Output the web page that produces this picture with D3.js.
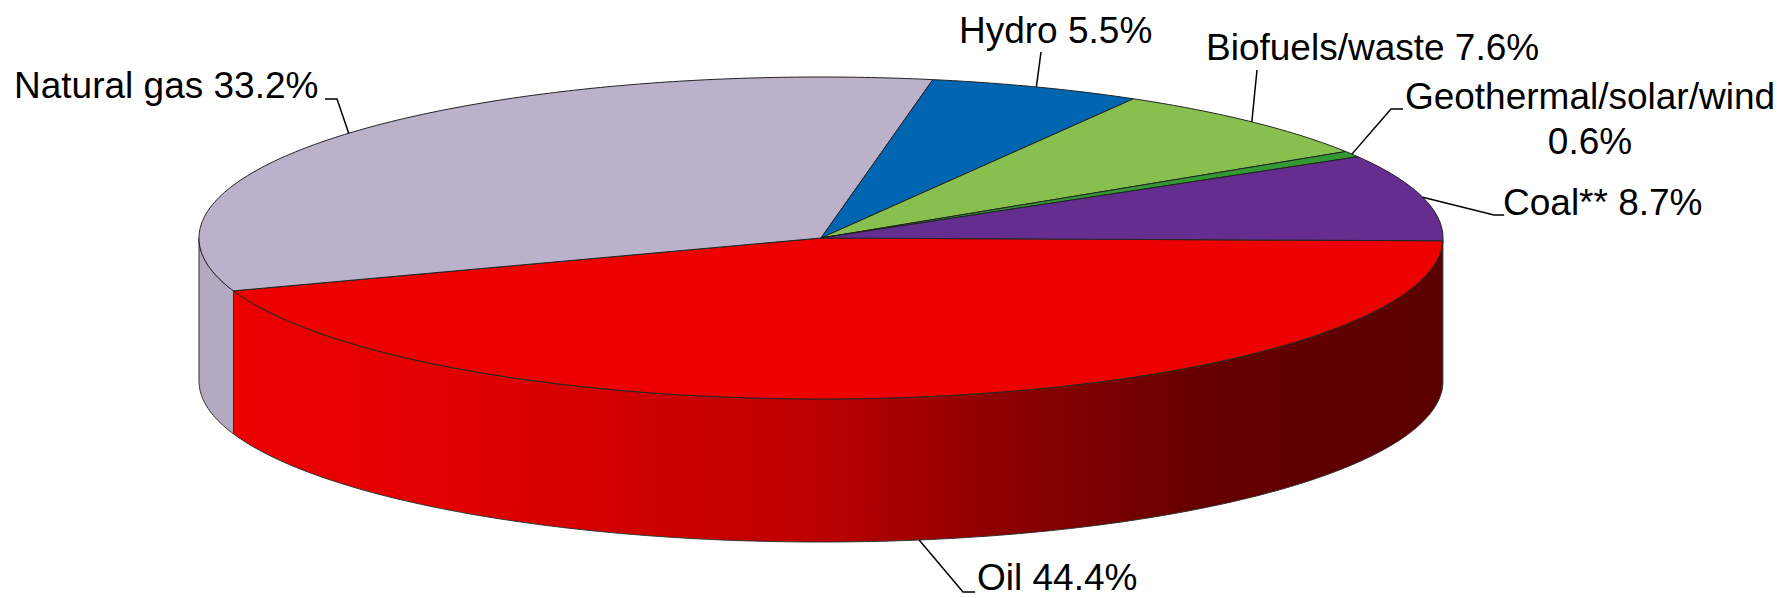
<!DOCTYPE html>
<html>
<head>
<meta charset="utf-8">
<script src="https://cdn.jsdelivr.net/npm/d3@7"></script>
<style>
  html, body { margin: 0; padding: 0; background: #fff; }
  svg { display: block; }
  text { font-family: "Liberation Sans", Arial, sans-serif; font-size: 37px; fill: #000; }
</style>
</head>
<body>
<div id="chart"></div>
<script>
var categories = ["Oil", "Natural gas", "Hydro", "Biofuels/waste", "Geothermal/solar/wind", "Coal**"];
var values = [44.4, 33.2, 5.5, 7.6, 0.6, 8.7];
var topColors = ["#EC0000", "#BBB1CA", "#0066B2", "#88C04F", "#339933", "#662D91"];

var width = 1782, height = 598;
var cx = 821, cy = 238, rx = 622, ry = 161, depth = 143;

// label text, then the elbow of each leader line and where the text sits
var labelLines = [
  ["Oil 44.4%"],
  ["Natural gas 33.2%"],
  ["Hydro 5.5%"],
  ["Biofuels/waste 7.6%"],
  ["Geothermal/solar/wind", "0.6%"],
  ["Coal** 8.7%"]
];
var leaders = [
  [[975, 592], [963, 592]],
  [[325, 99], [337, 99]],
  [[1041, 52]],
  [[1257, 70]],
  [[1403, 109], [1391, 109]],
  [[1504, 215], [1494, 215]]
];
var labelPos = [
  {x: 977, y: 590, anchor: "start"},
  {x: 14, y: 98, anchor: "start"},
  {x: 959, y: 43, anchor: "start"},
  {x: 1206, y: 60, anchor: "start"},
  {x: 1590, y: 109, anchor: "middle"},
  {x: 1503, y: 215, anchor: "start"}
];

var svg = d3.select("#chart").append("svg")
  .attr("width", width)
  .attr("height", height)
  .attr("viewBox", `0 0 ${width} ${height}`);

var red = svg.append("defs").append("linearGradient")
  .attr("id", "oilWall")
  .attr("gradientUnits", "userSpaceOnUse")
  .attr("x1", 232).attr("x2", 1445).attr("y1", 0).attr("y2", 0);
[[0, "#EC0000"], [0.2, "#E00000"], [0.47, "#BE0000"], [0.64, "#8C0000"], [0.8, "#660000"], [1, "#5A0000"]]
  .forEach(s => red.append("stop").attr("offset", s[0]).attr("stop-color", s[1]));
var wallFill = ["url(#oilWall)", "#B3A9C0"];

var x = d3.scaleLinear().domain([-1, 1]).range([cx - rx, cx + rx]);
var y = d3.scaleLinear().domain([-1, 1]).range([cy - ry, cy + ry]);

// d3.pie angles: 0 is up, clockwise. Oil starts just past the right edge
var start = Math.PI / 2 + Math.PI / 180;
var slices = d3.pie().sort(null).startAngle(start).endAngle(start + 2 * Math.PI)(values);

var rim = (a, dy) => [x(Math.sin(a)), y(-Math.cos(a)) + (dy || 0)];
var line = d3.line();

function arcPoints(a0, a1, dy) {
  var n = Math.max(2, Math.ceil((a1 - a0) * 90));
  return d3.range(n + 1).map(i => rim(a0 + (a1 - a0) * i / n, dy));
}

// side walls, only what faces the viewer (right edge round to left edge)
var front0 = Math.PI / 2, front1 = 3 * Math.PI / 2;
slices.forEach(function(d, i) {
  var a0 = Math.max(d.startAngle, front0), a1 = Math.min(d.endAngle, front1);
  if (a1 <= a0) return;
  var pts = arcPoints(a0, a1, 0).concat(arcPoints(a0, a1, depth).reverse());
  svg.append("path")
    .attr("d", line(pts) + "Z")
    .attr("fill", wallFill[i])
    .attr("stroke", "#333")
    .attr("stroke-width", 1);
});

// top face
svg.append("g").selectAll("path")
  .data(slices)
  .enter().append("path")
    .attr("d", d => line([[cx, cy]].concat(arcPoints(d.startAngle, d.endAngle, 0))) + "Z")
    .attr("fill", (d, i) => topColors[i])
    .attr("stroke", "#222")
    .attr("stroke-width", 1)
    .attr("stroke-linejoin", "round");

// leader lines run from the middle of each slice's rim
slices.forEach(function(d, i) {
  var mid = (d.startAngle + d.endAngle) / 2;
  var front = mid > front0 && mid < front1;
  var pts = leaders[i].concat([rim(mid, front ? depth : 0)]);
  svg.append("path")
    .attr("d", line(pts))
    .attr("fill", "none")
    .attr("stroke", "#000")
    .attr("stroke-width", 1.5);
});

// labels
labelLines.forEach(function(lines, i) {
  var p = labelPos[i];
  lines.forEach(function(t, j) {
    svg.append("text")
      .attr("x", p.x)
      .attr("y", p.y + j * 45)
      .attr("text-anchor", p.anchor)
      .text(t);
  });
});
</script>
</body>
</html>
